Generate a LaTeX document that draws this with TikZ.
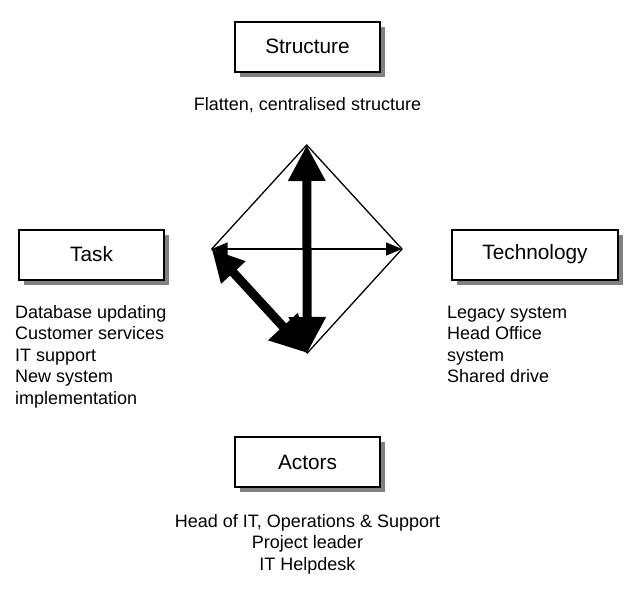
\documentclass[tikz,border=0pt]{standalone}
\usepackage{fontspec}
\setmainfont{Liberation Sans}
\usetikzlibrary{arrows.meta,shadows}
\tikzset{
  boxstyle/.style={draw, line width=2pt, fill=white, inner sep=0pt,
    minimum width=145pt, minimum height=50pt,
    font=\fontsize{20.8}{24}\selectfont,
    general shadow={fill=black!50, shadow xshift=5pt, shadow yshift=-5pt}},
  bodytext/.style={inner sep=0pt, font=\fontsize{18}{21.5}\selectfont},
  thinedge/.style={line width=1.3pt, line join=miter},
  thinarrow/.style={line width=1.5pt, {Triangle[length=16pt,width=13pt]}-{Triangle[length=16pt,width=13pt]}},
  thickarrow/.style={line width=9pt, {Triangle[length=36pt,width=35pt]}-{Triangle[length=36pt,width=35pt]}},
  diagarrow/.style={line width=9pt, {Triangle[length=32pt,width=31pt]}-{Triangle[length=36pt,width=38pt]}}
}
\begin{document}
\begin{tikzpicture}[x=1pt,y=-1pt]
\useasboundingbox (0,0) rectangle (629,592);
% boxes
\node[boxstyle] (structure) at (307.5,46.5) {Structure};
\node[boxstyle] (task) at (91.5,254.5) {Task};
\node[boxstyle, minimum width=166pt] (technology) at (535,254.5) {Technology};
\node[boxstyle] (actors) at (307.5,462) {Actors};
% texts (base anchor = baseline of the last line)
\node[bodytext, anchor=base] (structtext) at (307.5,110) {Flatten, centralised structure};
\node[bodytext, anchor=base west, align=left] (tasktext) at (15,404)
  {Database updating\\Customer services\\IT support\\New system\\implementation};
\node[bodytext, anchor=base west, align=left] (techtext) at (447,382.5)
  {Legacy system\\Head Office\\system\\Shared drive};
\node[bodytext, anchor=base, align=center] (actorstext) at (307.5,570)
  {Head of IT, Operations \& Support\\Project leader\\IT Helpdesk};
% diamond
\coordinate (T) at (306.7,145);
\coordinate (L) at (211.7,249);
\coordinate (R) at (402,249);
\coordinate (B) at (307.3,353);
\draw[thinedge] (T) -- (R) -- (B) -- (L) -- cycle;
\draw[thinarrow] (L) -- (R);
\draw[thickarrow] (B) -- (T);
\draw[diagarrow] (L) -- (B);
\end{tikzpicture}
\end{document}
